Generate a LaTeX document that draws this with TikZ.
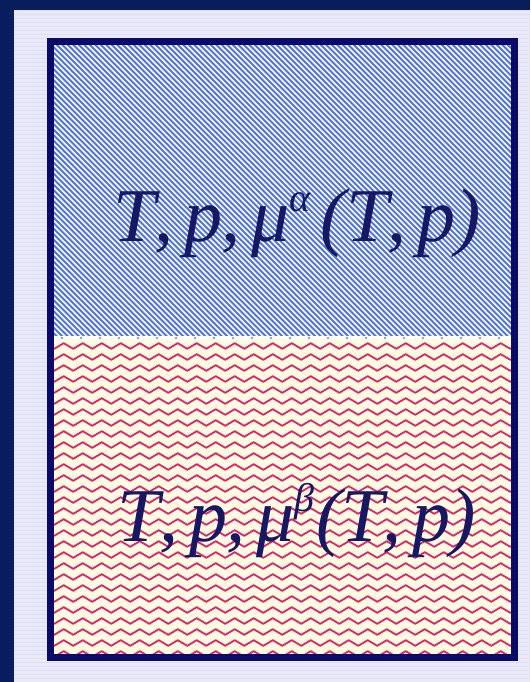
\documentclass[tikz,border=0pt]{standalone}
\usepackage{fontspec}
\setmainfont{Liberation Serif}
\usetikzlibrary{decorations.pathmorphing}
\definecolor{framenavy}{RGB}{8,30,92}
\definecolor{boxnavy}{RGB}{10,10,105}
\definecolor{lavender}{RGB}{233,233,250}
\definecolor{stripecol}{RGB}{222,222,244}
\definecolor{cream}{RGB}{255,252,226}
\definecolor{hatchblue}{RGB}{78,118,232}
\definecolor{wavered}{RGB}{222,36,108}
\definecolor{textnavy}{RGB}{22,24,100}
\newcommand{\phsup}[1]{\raisebox{30pt}{\fontsize{40}{40}\selectfont #1}}
\newcommand{\phcomma}{\kern-1pt,\kern11pt}

\begin{document}
\begin{tikzpicture}[x=1pt, y=1pt,
    hatch/.style={hatchblue, line width=1.8pt},
    wavy/.style={wavered, line width=1.8pt, decorate,
      decoration={zigzag, segment length=19pt, amplitude=2.8pt}},
    boxline/.style={boxnavy, line width=7pt},
    phase text/.style={textnavy, anchor=base, inner sep=0pt,
      font=\fontsize{76}{90}\selectfont\itshape}]
  \useasboundingbox (0,0) rectangle (530,682);
  % 背景
  \fill[lavender] (0,0) rectangle (530,682);
  \foreach \y in {3,7,...,671}{
    \draw[stripecol, line width=1pt] (14,\y) -- (530,\y);
  }
  \fill[framenavy] (0,0) rectangle (14,682);
  \fill[framenavy] (0,672) rectangle (530,682);
  % alpha 相
  \fill[cream] (50.5,344) rectangle (514.5,640.5);
  \begin{scope}
    \clip (50.5,344) rectangle (514.5,640.5);
    \foreach \c in {-260,-254.5,...,520}{
      \draw[hatch] (\c,640.5) -- ++(310,-310);
    }
  \end{scope}
  % beta 相
  \fill[cream] (50.5,24.5) rectangle (514.5,344);
  \begin{scope}
    \clip (50.5,24.5) rectangle (514.5,344);
    \foreach \y in {28,39,...,340}{
      \draw[wavy, line join=round] (40,\y) -- (540,\y);
    }
  \end{scope}
  % 相界面
  \draw[white, line width=3pt] (50.5,344) -- (514.5,344);
  \foreach \x in {62,81,...,510}{
    \fill[hatchblue!70] (\x,344) circle (1.4);
  }
  \draw[boxline] (50.5,24.5) rectangle (514.5,640.5);
  % 文字
  \node[phase text] (alpha) at (297,440) {T\phcomma p\phcomma μ\phsup{α}\kern10pt(T\phcomma p)};
  \node[phase text] (beta) at (297,140) {T\phcomma p\phcomma μ\phsup{β}\kern2pt(T\phcomma p)};
\end{tikzpicture}
\end{document}
